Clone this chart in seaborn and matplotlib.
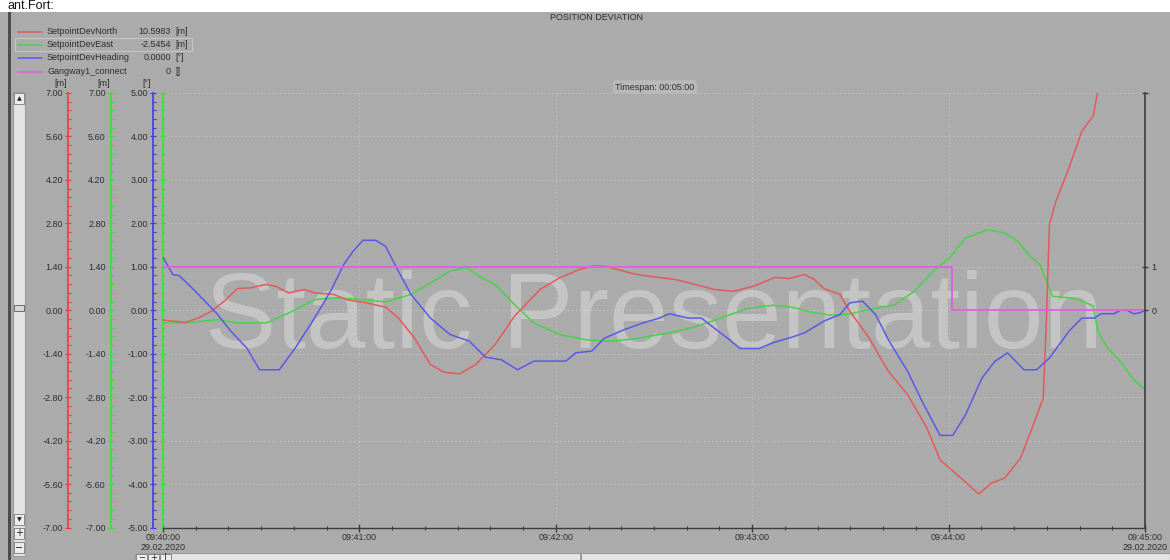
import matplotlib
matplotlib.use("Agg")
import matplotlib.pyplot as plt
import seaborn as sns
from matplotlib.ticker import FixedLocator, FuncFormatter, NullFormatter
from matplotlib.lines import Line2D
from matplotlib.patches import Rectangle

# ---------------------------------------------------------------- data
# time in seconds after 09:40:00
north_t = [0, 6.9, 10.8, 14.8, 18.7, 22.7, 26.6, 31.5, 34.5, 38.4, 43.3, 46.3,
           52.2, 56.1, 62.0, 68.0, 71.9, 76.8, 81.7, 85.7, 90.6, 95.5, 101.4,
           107.4, 115.2, 121.1, 127.1, 131.0, 134.9, 138.9, 144.8, 152.7, 156.6,
           162.5, 168.4, 174.3, 180.2, 187.1, 191.1, 196.0, 199.0, 201.9, 206.8,
           209.8, 215.7, 221.6, 227.5, 233.4, 237.4, 244.3, 249.2, 253.1, 257.1,
           262.0, 265.9, 268.9, 269.9, 270.8, 272.8, 276.8, 280.7, 284.2, 286.0,
           300.0]
north_v = [-0.32, -0.39, -0.25, -0.03, 0.29, 0.70, 0.72, 0.83, 0.77, 0.56, 0.67,
           0.56, 0.51, 0.34, 0.24, 0.10, -0.25, -0.89, -1.75, -1.99, -2.05, -1.75,
           -1.11, -0.19, 0.67, 1.04, 1.31, 1.42, 1.42, 1.31, 1.15, 1.04, 0.99,
           0.83, 0.67, 0.61, 0.77, 1.06, 1.02, 1.15, 0.99, 0.70, 0.51, -0.03,
           -0.89, -1.97, -2.72, -3.80, -4.82, -5.46, -5.92, -5.57, -5.41, -4.76,
           -3.69, -2.83, -0.25, 2.76, 3.52, 4.59, 5.77, 6.26, 7.30, 10.60]

east_t = [0, 6.9, 16.7, 22.7, 31.5, 38.4, 46.3, 52.2, 58.1, 68.0, 75.8, 81.7,
          87.7, 92.6, 97.5, 101.4, 107.4, 113.3, 121.1, 129.0, 136.9, 144.8,
          154.6, 162.5, 170.4, 178.3, 186.2, 192.1, 198.0, 203.9, 209.8, 215.7,
          223.6, 229.5, 235.4, 240.3, 245.2, 252.1, 257.1, 261.0, 264.9, 267.9,
          269.9, 271.8, 276.8, 280.7, 284.2, 285.6, 288.6, 292.5, 296.5, 300.0]
east_v = [-0.41, -0.41, -0.30, -0.41, -0.41, -0.09, 0.34, 0.40, 0.37, 0.27,
          0.51, 0.88, 1.26, 1.37, 1.04, 0.83, 0.18, -0.41, -0.78, -0.95, -1.00,
          -0.91, -0.73, -0.54, -0.25, 0.05, 0.16, 0.10, -0.06, -0.16, -0.12,
          0.02, 0.18, 0.61, 1.26, 1.69, 2.33, 2.60, 2.49, 2.23, 1.74, 1.47,
          0.94, 0.45, 0.40, 0.31, 0.13, -0.68, -1.22, -1.65, -2.24, -2.55]

heading_t = [0, 3.0, 4.9, 8.9, 12.8, 16.7, 20.7, 25.6, 29.5, 35.5, 40.4, 46.3,
             51.2, 55.2, 58.1, 61.1, 65.0, 68.0, 71.9, 75.8, 81.7, 87.7, 93.6,
             98.5, 103.4, 108.3, 113.3, 123.1, 126.1, 131.0, 134.9, 140.8, 146.7,
             151.7, 154.6, 160.5, 164.5, 168.4, 172.4, 176.3, 182.2, 186.2, 192.1,
             196.0, 201.9, 206.8, 209.8, 213.7, 217.7, 221.6, 227.5, 232.4, 237.4,
             241.3, 245.2, 250.2, 254.1, 258.0, 263.0, 266.9, 270.8, 276.8, 280.7,
             284.6, 286.6, 290.5, 292.5, 294.5, 296.5, 298.4, 300.0]
heading_v = [1.22, 0.82, 0.80, 0.51, 0.21, -0.10, -0.48, -0.87, -1.37, -1.37,
             -0.87, -0.18, 0.44, 1.05, 1.36, 1.61, 1.61, 1.47, 0.90, 0.36, -0.18,
             -0.56, -0.71, -1.08, -1.14, -1.37, -1.17, -1.17, -0.98, -0.94, -0.64,
             -0.45, -0.29, -0.18, -0.08, -0.18, -0.18, -0.41, -0.64, -0.88, -0.88,
             -0.75, -0.62, -0.52, -0.25, -0.10, 0.17, 0.21, -0.10, -0.68, -1.41,
             -2.17, -2.88, -2.88, -2.40, -1.56, -1.18, -0.98, -1.37, -1.37, -1.10,
             -0.48, -0.18, -0.18, -0.08, -0.08, 0.00, 0.00, -0.08, -0.06, 0.00]

gangway_t = [0, 241.0, 300.0]
gangway_v = [1, 0, 0]

time_ticks = [0, 60, 120, 180, 240, 300]
time_labels = ["09:40:00\n29.02.2020", "09:41:00", "09:42:00", "09:43:00",
               "09:44:00", "09:45:00\n29.02.2020"]

legend_names = ["SetpointDevNorth", "SetpointDevEast", "SetpointDevHeading",
                "Gangway1_connect"]
legend_values = ["10.5983", "-2.5454", "0.0000", "0"]
legend_units = ["[m]", "[m]", "[°]", "[]"]

# ---------------------------------------------------------------- style
sns.set_style("ticks")
plt.rcParams["font.family"] = ["Liberation Sans", "DejaVu Sans"]
plt.rcParams["font.size"] = 6.5

BG = "#ababab"
TXT = "#2e2e2e"
RED, GREEN, BLUE, MAGENTA = "#e45a5a", "#46d446", "#5a5ae6", "#e060e0"
RED_AX, GREEN_AX, BLUE_AX = "#f03c3c", "#3ce03c", "#3c3cf0"

W, H = 1170, 560
fig = plt.figure(figsize=(W / 100, H / 100), dpi=100, facecolor=BG)


def fx(x):
    return x / W


def fy(y):
    return 1 - y / H


def rect(x0, y0, x1, y1, fc, ec="none", lw=0.8, z=1):
    fig.add_artist(Rectangle((fx(x0), fy(y1)), fx(x1) - fx(x0), fy(y0) - fy(y1),
                             transform=fig.transFigure, fc=fc, ec=ec, lw=lw,
                             zorder=z))


# host axes: plot area
L, R, T, B = 163, 1145, 93, 527.5
ax = fig.add_axes([fx(L), fy(B), fx(R) - fx(L), fy(T) - fy(B)])
ax.set_facecolor(BG)
ax.set_xlim(0, 300)
ax.set_ylim(-7, 7)

m_major = [round(-7 + 1.4 * i, 2) for i in range(11)]
m_minor = [round(-7 + 0.28 * i, 2) for i in range(51)]
d_major = list(range(-5, 6))
d_minor = [round(-5 + 0.2 * i, 2) for i in range(51)]


def fmt2(v, _pos=None):
    v = round(v, 2)
    if abs(v) < 1e-9:
        v = 0.0
    return f"{v:.2f}"


for s in ["top", "right"]:
    ax.spines[s].set_visible(False)
ax.spines["left"].set_color(GREEN_AX)
ax.spines["left"].set_linewidth(1.2)
ax.spines["bottom"].set_color("#3c3c3c")
ax.spines["bottom"].set_linewidth(1.0)
ax.yaxis.set_major_locator(FixedLocator(m_major))
ax.yaxis.set_minor_locator(FixedLocator(m_minor))
ax.yaxis.set_major_formatter(NullFormatter())
ax.tick_params(axis="y", which="both", direction="inout", color=GREEN_AX,
               length=4, width=0.9)
ax.tick_params(axis="y", which="minor", length=3)
ax.xaxis.set_major_locator(FixedLocator(time_ticks))
ax.xaxis.set_minor_locator(FixedLocator(list(range(0, 301, 10))))
ax.set_xticklabels(time_labels)
ax.tick_params(axis="x", which="major", direction="inout", length=6, width=1.0,
               color="#3c3c3c", labelcolor=TXT, labelsize=6.5, pad=1)
ax.tick_params(axis="x", which="minor", direction="inout", length=3, width=0.8,
               color="#3c3c3c")
ax.grid(True, which="major", color="#c2c2c2", linestyle=(0, (1.5, 2.5)),
        linewidth=0.7)
ax.set_axisbelow(True)

# watermark
ax.text(0.5, 0.413, "Static Presentation", transform=ax.transAxes,
        ha="center", va="baseline", fontsize=77, color="white", alpha=0.3,
        zorder=1, family="Liberation Sans")

sns.lineplot(x=east_t, y=east_v, ax=ax, color=GREEN, linewidth=1.1,
             legend=False, zorder=3)


def left_axis(pos, color, ticks, minor, lo, hi):
    a = ax.twinx()
    a.set_ylim(lo, hi)
    a.set_xlim(0, 300)
    a.yaxis.set_ticks_position("left")
    a.yaxis.set_label_position("left")
    for s in a.spines.values():
        s.set_visible(False)
    a.spines["left"].set_visible(True)
    a.spines["left"].set_position(("axes", pos))
    a.spines["left"].set_color(color)
    a.spines["left"].set_linewidth(1.2)
    a.yaxis.set_major_locator(FixedLocator(ticks))
    a.yaxis.set_minor_locator(FixedLocator(minor))
    a.yaxis.set_major_formatter(FuncFormatter(fmt2))
    a.tick_params(axis="y", which="major", direction="inout", length=4,
                  width=0.9, color=color, labelcolor=TXT, labelsize=6.5, pad=1.5)
    a.tick_params(axis="y", which="minor", direction="in", length=2.2,
                  width=0.8, color=color)
    a.patch.set_visible(False)
    return a


ax_n = left_axis((68 - L) / (R - L), RED_AX, m_major, m_minor, -7, 7)
ax_e = left_axis((110.5 - L) / (R - L), GREEN_AX, m_major, m_minor, -7, 7)
ax_h = left_axis((153 - L) / (R - L), BLUE_AX, d_major, d_minor, -5, 5)

sns.lineplot(x=north_t, y=north_v, ax=ax_n, color=RED, linewidth=1.1,
             legend=False)
sns.lineplot(x=heading_t, y=heading_v, ax=ax_h, color=BLUE, linewidth=1.1,
             legend=False)

# right axis for the gangway connection flag
ax_g = ax.twinx()
ax_g.set_ylim(-5, 5)
ax_g.set_xlim(0, 300)
for s in ax_g.spines.values():
    s.set_visible(False)
ax_g.spines["right"].set_visible(True)
ax_g.spines["right"].set_color("#3c3c3c")
ax_g.spines["right"].set_linewidth(1.2)
ax_g.yaxis.set_major_locator(FixedLocator([0, 1, 5]))
ax_g.set_yticklabels(["0", "1", ""])
ax_g.tick_params(axis="y", direction="inout", length=5, width=1.0,
                 color="#3c3c3c", labelcolor=TXT, labelsize=6.5, pad=2)
ax_g.patch.set_visible(False)
sns.lineplot(x=gangway_t, y=gangway_v, ax=ax_g, color=MAGENTA, linewidth=1.3,
             drawstyle="steps-post", legend=False)

# unit labels above the value axes
for xp, u in [(61, "[m]"), (104, "[m]"), (147, "[°]")]:
    fig.text(fx(xp), fy(83), u, ha="center", va="center", color=TXT,
             fontsize=6.5)

# titles
fig.text(fx(597), fy(18), "POSITION DEVIATION", ha="center", va="center",
         color=TXT, fontsize=6.5)
fig.text(fx(655), fy(87), "Timespan: 00:05:00", ha="center", va="center",
         color=TXT, fontsize=6.5,
         bbox=dict(boxstyle="round,pad=0.25", fc="#b9b9b9", ec="none"))

# series legend with current values
legend_colors = [RED, GREEN, BLUE, MAGENTA]
rows_y = [31.5, 44.5, 58, 71.5]
rect(15, 38.5, 192, 50.5, "none", ec="#c6c6c6", lw=0.8)
for y, name, val, unit, c in zip(rows_y, legend_names, legend_values,
                                 legend_units, legend_colors):
    fig.add_artist(Line2D([fx(18), fx(42)], [fy(y), fy(y)], color=c, lw=1.1,
                          transform=fig.transFigure))
    fig.text(fx(47), fy(y), name, ha="left", va="center", color=TXT)
    fig.text(fx(171), fy(y), val, ha="right", va="center", color=TXT)
    fig.text(fx(175), fy(y), unit, ha="left", va="center", color=TXT)

# window chrome: header band, frame and scroll bars
rect(0, 0, W, 12, "white", z=0.5)
fig.text(fx(8), fy(6), "ant.Fort:", ha="left", va="center", fontsize=9,
         color="#111111")
rect(8, 12, 10.5, H, "#4c4c4c")
rect(13, 92, 25, 556, "#e4e4e4", ec="#9a9a9a")
for y0, sym in [(93, "▲"), (514, "▼"), (528, "+"), (542, "−")]:
    rect(14, y0, 24, y0 + 11, "#ececec", ec="#7a7a7a", lw=0.6, z=2)
    fig.text(fx(19), fy(y0 + 5.5), sym, ha="center", va="center",
             fontsize=4.5 if sym in "▲▼" else 7, color="#202020",
             family=["DejaVu Sans"], zorder=3)
rect(14, 305, 24, 311, "#d8d8d8", ec="#5a5a5a", lw=0.6, z=2)

rect(135, 553, W, H + 2, "#e4e4e4", ec="#9a9a9a")
for x0, sym in [(136, "−"), (148, "+"), (160, "|")]:
    rect(x0, 553.5, x0 + 11, H + 1, "#ececec", ec="#7a7a7a", lw=0.6, z=2)
    fig.text(fx(x0 + 5.5), fy(557.5), sym, ha="center", va="center",
             fontsize=6, color="#202020", family=["DejaVu Sans"], zorder=3)
rect(580, 553.5, 582, H + 1, "#9a9a9a", z=2)

fig.savefig("out.png", dpi=100, facecolor=BG)
